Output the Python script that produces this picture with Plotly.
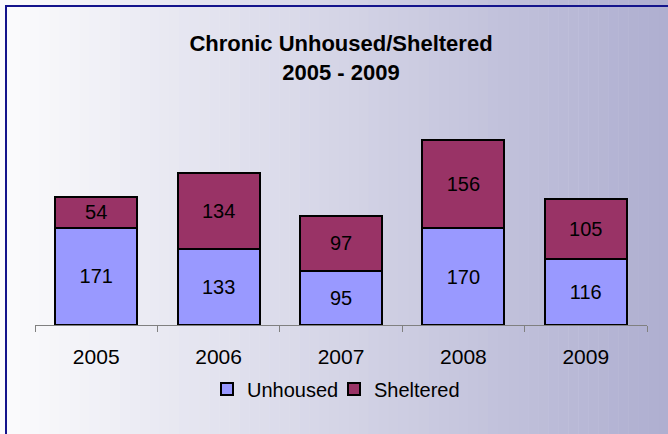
import plotly.graph_objects as go

years = ["2005", "2006", "2007", "2008", "2009"]
unhoused = [171, 133, 95, 170, 116]
sheltered = [54, 134, 97, 156, 105]

W, H = 668, 434
ML, MR, MT, MB = 35, 21, 126, 109
PW = W - ML - MR
PH = H - MT - MB

def px_x(px):
    return (px - ML) / PW

def px_y(py):
    return (H - MB - py) / PH

FONT = "Liberation Sans, Arial, sans-serif"

fig = go.Figure()
fig.add_trace(go.Bar(
    x=years, y=unhoused, name="Unhoused",
    marker=dict(color="#9999FF", line=dict(color="black", width=2)),
    text=unhoused, textposition="inside", insidetextanchor="middle",
    textfont=dict(size=20, color="black", family=FONT),
    constraintext="none", hoverinfo="x+y+name",
))
fig.add_trace(go.Bar(
    x=years, y=sheltered, name="Sheltered",
    marker=dict(color="#993366", line=dict(color="black", width=2)),
    text=sheltered, textposition="inside", insidetextanchor="middle",
    textfont=dict(size=20, color="black", family=FONT),
    constraintext="none", hoverinfo="x+y+name",
))

# background gradient (styling only)
shapes = []
n = 67
left = (252, 252, 253)
right = (174, 174, 208)
for i in range(n):
    x0 = i * W / n
    x1 = (i + 1) * W / n + 0.5
    t = (i + 0.5) / n
    c = tuple(round(left[k] + (right[k] - left[k]) * t) for k in range(3))
    shapes.append(dict(
        type="rect", xref="paper", yref="paper",
        x0=px_x(x0), x1=px_x(x1), y0=px_y(H + 2), y1=px_y(-2),
        fillcolor="rgb(%d,%d,%d)" % c, line=dict(width=0), layer="below",
    ))
# frame
shapes.append(dict(
    type="rect", xref="paper", yref="paper",
    x0=px_x(6), x1=px_x(W + 10), y0=px_y(H + 10), y1=px_y(6),
    line=dict(color="#14148C", width=2), fillcolor="rgba(0,0,0,0)", layer="below",
))

fig.update_layout(
    width=W, height=H,
    margin=dict(l=ML, r=MR, t=MT, b=MB, autoexpand=False),
    barmode="stack", bargap=0.33,
    paper_bgcolor="rgb(%d,%d,%d)" % left,
    plot_bgcolor="rgba(0,0,0,0)",
    font=dict(family=FONT, size=21, color="black"),
    title=dict(
        text="<b>Chronic Unhoused/Sheltered<br>2005 - 2009</b>",
        x=0.5, xref="paper", xanchor="center",
        y=1 - 51 / H, yref="container", yanchor="middle",
        font=dict(size=22, color="black", family=FONT),
    ),
    showlegend=True,
    legend=dict(
        orientation="h", x=px_x(334), xanchor="center",
        y=px_y(389), yanchor="middle",
        font=dict(size=20, color="black", family=FONT),
        traceorder="normal", bgcolor="rgba(0,0,0,0)",
        entrywidth=82, itemwidth=30,
    ),
    shapes=shapes,
    xaxis=dict(
        type="category", range=[-0.5, 4.5],
        showline=True, linecolor="#808080", linewidth=1,
        ticks="outside", tickson="boundaries", ticklen=6, tickcolor="#808080",
        tickfont=dict(size=21, color="black", family=FONT),
        ticklabelstandoff=13,
        showgrid=False, zeroline=False,
    ),
    yaxis=dict(
        range=[0, 350], visible=False, showgrid=False, zeroline=False,
    ),
)

fig.write_html("out.html", config={"displayModeBar": False},
               post_script="document.body.style.margin='0px';")
